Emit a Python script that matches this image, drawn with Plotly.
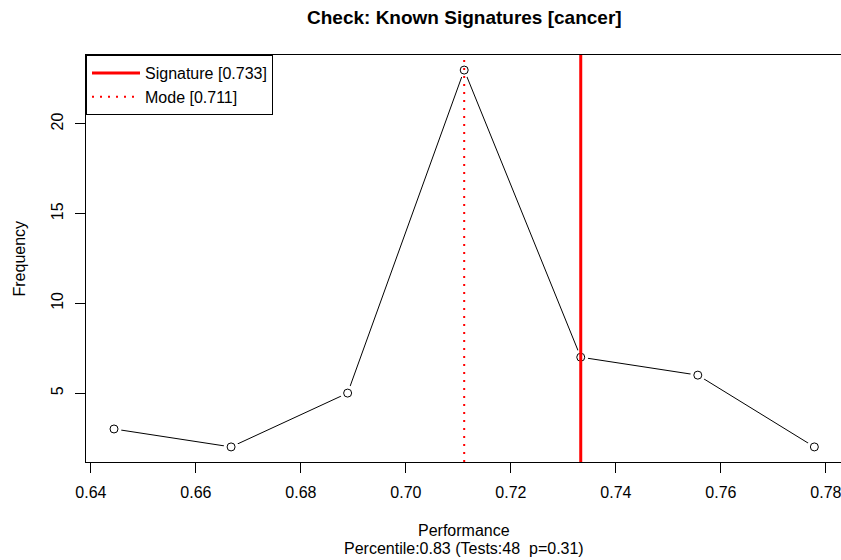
import plotly.graph_objects as go

# ---- data ----
perf_bins = [0.6444, 0.6667, 0.6889, 0.7111, 0.7333, 0.7556, 0.7778]
frequency = [3, 2, 5, 23, 7, 6, 2]
signature_value = 0.7333
mode_value = 0.7111
x_ticks = [0.64, 0.66, 0.68, 0.70, 0.72, 0.74, 0.76, 0.78]
y_ticks = [5, 10, 15, 20]
title_text = "Check: Known Signatures [cancer]"
xlab_text = "Performance"
sub_text = "Percentile:0.83 (Tests:48\u00a0\u00a0p=0.31)"
ylab_text = "Frequency"

FONT = "Liberation Sans, Arial, Helvetica, sans-serif"

# R style axis extension (4%)
xmin, xmax = min(perf_bins), max(perf_bins)
ymin, ymax = min(frequency), max(frequency)
xr0 = xmin - 0.04 * (xmax - xmin)
xr1 = xr0 + 755 / 5250.0
yr0 = ymin - 0.04 * (ymax - ymin)
yr1 = ymax + 0.04 * (ymax - ymin)

fig = go.Figure()
# connecting line
fig.add_trace(go.Scatter(x=perf_bins, y=frequency, mode="lines",
                         line=dict(color="black", width=1), showlegend=False,
                         hoverinfo="skip"))
# white gaps around points (type="b")
fig.add_trace(go.Scatter(x=perf_bins, y=frequency, mode="markers",
                         marker=dict(symbol="circle", size=15, color="white",
                                     line=dict(width=0)),
                         showlegend=False, hoverinfo="skip"))
# open circles
fig.add_trace(go.Scatter(x=perf_bins, y=frequency, mode="markers",
                         marker=dict(symbol="circle-open", size=8, color="black",
                                     line=dict(width=1, color="black")),
                         showlegend=False))
# signature line
fig.add_trace(go.Scatter(x=[signature_value, signature_value], y=[yr0, yr1],
                         mode="lines", line=dict(color="red", width=3),
                         name="Signature [%.3f]" % signature_value))
# mode line
fig.add_trace(go.Scatter(x=[mode_value, mode_value], y=[yr0, yr1],
                         mode="lines", line=dict(color="red", width=2, dash="2px,6px"),
                         name="Mode [%.3f]" % mode_value))

fig.update_layout(
    width=841, height=560,
    margin=dict(l=86, r=0, t=55, b=98),
    paper_bgcolor="white", plot_bgcolor="white",
    font=dict(family=FONT, size=16, color="black"),
    showlegend=True,
    legend=dict(x=0, y=1, xanchor="left", yanchor="top",
                bordercolor="black", borderwidth=1, bgcolor="white",
                font=dict(size=16, family=FONT), tracegroupgap=0,
                itemwidth=48),
    xaxis=dict(range=[xr0, xr1], tickvals=x_ticks,
               ticktext=["%.2f" % v for v in x_ticks],
               showgrid=False, zeroline=False, showline=True, linecolor="black",
               linewidth=1, mirror=True, ticks="outside", ticklen=10,
               tickcolor="black", tickwidth=1, tickfont=dict(size=16),
               ticklabelstandoff=6, ticklabeloverflow="allow"),
    yaxis=dict(range=[yr0, yr1], tickvals=y_ticks,
               ticktext=[str(v) for v in y_ticks],
               showgrid=False, zeroline=False, showline=True, linecolor="black",
               linewidth=1, mirror=False, ticks="outside", ticklen=10,
               tickcolor="black", tickwidth=1, tickangle=-90,
               tickfont=dict(size=16), ticklabelstandoff=6),
    annotations=[
        dict(text="<b>%s</b>" % title_text, xref="paper", yref="paper",
             x=(464 - 86) / 755.0, y=1, yshift=38, xanchor="center", yanchor="middle",
             showarrow=False, font=dict(size=19, family=FONT)),
        dict(text=xlab_text, xref="paper", yref="paper",
             x=(464 - 86) / 755.0, y=0, yshift=-68, xanchor="center", yanchor="middle",
             showarrow=False, font=dict(size=16, family=FONT)),
        dict(text=sub_text, xref="paper", yref="paper",
             x=(464 - 86) / 755.0, y=0, yshift=-86, xanchor="center", yanchor="middle",
             showarrow=False, font=dict(size=16, family=FONT)),
        dict(text=ylab_text, xref="paper", yref="paper",
             x=0, xshift=-67, y=0.5, xanchor="center", yanchor="middle",
             textangle=-90, showarrow=False, font=dict(size=16, family=FONT)),
    ],
)

fig.write_html("out.html")
